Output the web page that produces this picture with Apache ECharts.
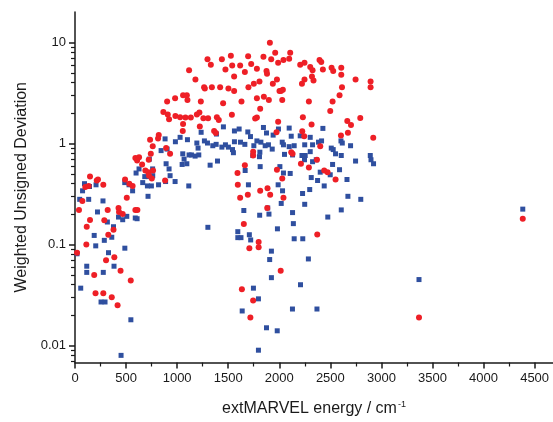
<!DOCTYPE html>
<html>
<head>
<meta charset="utf-8">
<script src="https://cdn.jsdelivr.net/npm/echarts@6/dist/echarts.min.js"></script>
<style>
  html, body { margin: 0; padding: 0; background: #fff; }
  #chart { width: 553px; height: 422px; }
</style>
</head>
<body>
<div id="chart"></div>
<script>
// [energy, weighted unsigned deviation]
const redData = [
  [1908, 9.9], [1960, 7.9], [2107, 7.9], [1845, 7.2], [1921, 6.8], [2041, 6.7], [2097, 6.9], [1297, 6.8], [1438, 6.8], [1526, 7.4],
  [1695, 7.3], [2394, 6.7], [1330, 6.0], [1539, 5.9], [1617, 5.9], [1725, 6.1], [1989, 6.3], [2205, 6.0], [2247, 6.3], [2303, 5.7],
  [1117, 5.3], [1473, 5.4], [1663, 5.1], [1781, 5.5], [1875, 5.2], [1880, 4.9], [2326, 5.3], [1558, 4.6], [1179, 4.3], [1806, 4.1],
  [1977, 4.3], [2247, 4.3], [2320, 4.6], [2335, 4.2], [1751, 3.9], [1937, 3.9], [2222, 3.9], [1264, 3.6], [1271, 3.5], [1340, 3.6],
  [1421, 3.6], [1502, 3.5], [1558, 3.3], [1698, 3.6], [2002, 3.3], [2035, 3.4], [2016, 3.3], [1058, 3.0], [1095, 3.0], [980, 2.8],
  [902, 2.6], [1101, 2.7], [1232, 2.6], [1630, 2.6], [1781, 2.8], [1849, 2.9], [1898, 2.7], [2029, 2.7], [2290, 2.6], [1450, 2.5],
  [1813, 2.2], [865, 2.05], [908, 1.93], [921, 1.74], [983, 1.87], [1029, 1.82], [1081, 1.81], [1134, 1.81], [1193, 1.93], [1218, 2.02],
  [1257, 1.78], [1303, 1.78], [1389, 1.82], [1408, 1.71], [1536, 1.92], [1764, 1.77], [1781, 1.81], [1058, 1.56], [1222, 1.47], [1989, 1.64],
  [2231, 1.82], [820, 1.21], [735, 1.09], [813, 1.12], [1055, 1.33], [1362, 1.33], [1379, 1.27], [1973, 1.29], [2225, 1.32], [761, 0.94],
  [892, 0.90], [931, 0.79], [742, 0.79], [591, 0.72], [627, 0.73], [608, 0.68], [722, 0.69], [657, 0.62], [1744, 0.83], [1744, 0.76],
  [2117, 0.82], [2130, 0.79], [2212, 0.63], [2290, 0.58], [689, 0.54], [718, 0.52], [764, 0.54], [725, 0.48], [752, 0.45], [1663, 0.61],
  [1977, 0.55], [1591, 0.51], [2029, 0.45], [147, 0.47], [101, 0.37], [134, 0.38], [213, 0.43], [225, 0.44], [277, 0.39], [490, 0.44],
  [532, 0.40], [507, 0.29], [882, 0.43], [1594, 0.39], [1813, 0.34], [1885, 0.36], [1911, 0.31], [1617, 0.29], [2041, 0.29], [564, 0.38],
  [1692, 0.31], [2411, 6.4], [2427, 5.4], [2512, 5.6], [2528, 5.2], [2607, 5.6], [2607, 4.8], [2747, 4.3], [2894, 4.1], [2894, 3.6],
  [2614, 3.6], [2590, 3.0], [2522, 2.6], [2499, 2.1], [2793, 1.79], [2666, 1.67], [2702, 1.52], [2316, 1.54], [2672, 1.28], [2244, 1.18],
  [2604, 1.2], [2920, 1.14], [2401, 0.94], [2369, 0.69], [2440, 0.54], [2473, 0.52], [2551, 0.44], [72, 0.27], [39, 0.22], [320, 0.22],
  [426, 0.23], [431, 0.21], [467, 0.20], [591, 0.22], [611, 0.22], [147, 0.175], [287, 0.174], [377, 0.14], [115, 0.15], [326, 0.125],
  [1882, 0.23], [1653, 0.16], [111, 0.1], [20, 0.083], [304, 0.07], [385, 0.075], [446, 0.055], [188, 0.05], [546, 0.044], [201, 0.033],
  [277, 0.033], [360, 0.030], [417, 0.025], [1798, 0.106], [1798, 0.094], [1707, 0.092], [2014, 0.055], [1634, 0.036], [1744, 0.028], [1717, 0.019],
  [2372, 0.126], [3368, 0.019], [4384, 0.18]
]

const blueData = [
  [1453, 1.46], [1607, 1.39], [1845, 1.44], [2097, 1.42], [1235, 1.29], [1385, 1.24], [1561, 1.33], [1692, 1.30], [1718, 1.17], [1875, 1.27],
  [1940, 1.21], [1992, 1.39], [2205, 1.19], [2117, 1.18], [2303, 1.15], [882, 1.11], [1029, 1.15], [1101, 1.09], [983, 1.04], [1193, 1.01],
  [1267, 1.06], [1297, 1.01], [1349, 0.95], [1382, 0.98], [1438, 0.92], [1473, 0.97], [1502, 0.92], [1542, 0.87], [1561, 1.04], [1620, 1.03],
  [1663, 0.98], [1751, 0.95], [1781, 1.06], [1820, 1.03], [1862, 0.95], [1894, 0.97], [1931, 0.88], [2029, 1.03], [2041, 0.97], [2097, 0.93],
  [2146, 0.95], [2249, 0.97], [2326, 0.97], [2384, 1.03], [843, 0.85], [902, 0.88], [1055, 0.79], [1117, 0.77], [1140, 0.77], [1176, 0.75],
  [1212, 0.77], [1068, 0.70], [1205, 0.90], [1551, 0.81], [1810, 0.82], [1806, 0.74], [1741, 0.76], [2051, 0.78], [2130, 0.77], [2303, 0.83],
  [2254, 0.76], [2362, 0.69], [2326, 0.66], [892, 0.63], [921, 0.56], [1049, 0.62], [1095, 0.63], [1323, 0.61], [1395, 0.67], [1813, 0.59],
  [2006, 0.59], [2041, 0.51], [2107, 0.505], [627, 0.56], [598, 0.51], [760, 0.56], [761, 0.48], [722, 0.47], [683, 0.47], [663, 0.41],
  [709, 0.38], [748, 0.38], [818, 0.39], [931, 0.48], [980, 0.42], [1114, 0.38], [564, 0.34], [715, 0.30], [1666, 0.54], [1698, 0.39],
  [1989, 0.39], [2032, 0.34], [2228, 0.32], [2298, 0.35], [2375, 0.43], [2313, 0.46], [93, 0.40], [74, 0.34], [142, 0.375], [206, 0.39],
  [487, 0.41], [529, 0.39], [887, 0.42], [728, 0.70], [2427, 1.41], [2604, 1.06], [2617, 1.01], [2698, 0.95], [2509, 0.90], [2528, 0.87],
  [2551, 0.79], [2607, 0.76], [2222, 0.76], [2247, 0.69], [2747, 0.67], [2891, 0.76], [2898, 0.69], [2923, 0.63], [2522, 0.62], [2590, 0.55],
  [2401, 0.52], [2499, 0.49], [2663, 0.44], [2440, 0.38], [2672, 0.30], [2798, 0.28], [2414, 1.06], [46, 0.28], [134, 0.28], [274, 0.27],
  [220, 0.21], [317, 0.167], [377, 0.15], [188, 0.123], [287, 0.11], [203, 0.097], [360, 0.118], [328, 0.083], [20, 0.081], [115, 0.061],
  [115, 0.053], [277, 0.053], [382, 0.061], [56, 0.037], [255, 0.027], [294, 0.027], [547, 0.018], [451, 0.008], [426, 0.187], [467, 0.176],
  [507, 0.19], [590, 0.183], [608, 0.18], [488, 0.092], [1301, 0.148], [1594, 0.134], [1594, 0.117], [1625, 0.117], [1707, 0.125], [1720, 0.111],
  [1653, 0.217], [1808, 0.195], [1887, 0.23], [1899, 0.20], [1982, 0.143], [1923, 0.086], [1906, 0.071], [1923, 0.047], [1747, 0.037], [1796, 0.029],
  [1637, 0.022], [1875, 0.015], [1980, 0.014], [1796, 0.009], [2019, 0.255], [2249, 0.25], [2130, 0.207], [2138, 0.161], [2146, 0.114], [2230, 0.114],
  [2285, 0.072], [2208, 0.040], [2129, 0.023], [2369, 0.023], [2607, 0.22], [2475, 0.187], [3368, 0.045], [4384, 0.224]
]

// tick positions
const xMajor = [0, 500, 1000, 1500, 2000, 2500, 3000, 3500, 4000, 4500]
const xMinor = [250, 750, 1250, 1750, 2250, 2750, 3250, 3750, 4250]
const yMajor = [0.01, 0.1, 1, 10]
const yMinor = [0.007, 0.008, 0.009, 0.02, 0.03, 0.04, 0.05, 0.06, 0.07, 0.08, 0.09,
  0.2, 0.3, 0.4, 0.5, 0.6, 0.7, 0.8, 0.9, 2, 3, 4, 5, 6, 7, 8, 9]

const axisColor = '#1a1a1a'
const font = 'Liberation Sans, Arial, sans-serif'
// the minor-tick axes need a line to get their ticks drawn, so keep it invisible
const hiddenLine = { show: true, onZero: false, lineStyle: { opacity: 0 } }

const chart = echarts.init(document.getElementById('chart'))
chart.setOption({
  animation: false,
  backgroundColor: '#fff',
  textStyle: { fontFamily: font },
  grid: { left: 75, right: 0, top: 12, bottom: 57 },
  xAxis: [{
    type: 'value',
    min: 0,
    max: 4680,
    name: 'extMARVEL energy / cm{sup|-1}',
    nameLocation: 'middle',
    nameGap: 38,
    nameTextStyle: {
      fontSize: 16,
      color: axisColor,
      fontFamily: font,
      rich: {
        sup: { fontSize: 9, verticalAlign: 'top', color: axisColor, fontFamily: font, padding: [0, 0, 8, 1] }
      }
    },
    axisLine: { show: true, onZero: false, lineStyle: { color: axisColor, width: 1.5 } },
    axisTick: { show: true, length: 6, customValues: xMajor, lineStyle: { color: axisColor, width: 1.5 } },
    axisLabel: {
      customValues: xMajor,
      margin: 9,
      fontSize: 13,
      color: axisColor,
      fontFamily: font,
      formatter: v => String(v)
    },
    splitLine: { show: false }
  }, {
    type: 'value',
    min: 0,
    max: 4680,
    position: 'bottom',
    axisLine: hiddenLine,
    axisTick: { show: true, length: 4, customValues: xMinor, lineStyle: { color: axisColor, width: 1.2 } },
    axisLabel: { show: false },
    splitLine: { show: false }
  }],
  yAxis: [{
    type: 'log',
    min: 0.0068,
    max: 20,
    name: 'Weighted Unsigned Deviation',
    nameLocation: 'middle',
    nameGap: 44,
    nameTextStyle: { fontSize: 16, color: axisColor, fontFamily: font },
    axisLine: { show: true, onZero: false, lineStyle: { color: axisColor, width: 1.5 } },
    axisTick: { show: true, length: 6, customValues: yMajor, lineStyle: { color: axisColor, width: 1.5 } },
    axisLabel: {
      customValues: yMajor,
      margin: 9,
      fontSize: 13,
      color: axisColor,
      fontFamily: font,
      formatter: v => String(+v.toPrecision(3))
    },
    splitLine: { show: false }
  }, {
    type: 'log',
    min: 0.0068,
    max: 20,
    position: 'left',
    axisLine: hiddenLine,
    axisTick: { show: true, length: 4, customValues: yMinor, lineStyle: { color: axisColor, width: 1.2 } },
    axisLabel: { show: false },
    splitLine: { show: false }
  }],
  series: [{
    // empty series so the minor-tick axes are laid out
    type: 'scatter',
    xAxisIndex: 1,
    yAxisIndex: 1,
    data: [],
    silent: true
  }, {
    type: 'scatter',
    name: 'blue',
    data: blueData,
    symbol: 'rect',
    symbolSize: 5,
    itemStyle: { color: '#2f4f9f', opacity: 1 }
  }, {
    type: 'scatter',
    name: 'red',
    data: redData,
    symbol: 'circle',
    symbolSize: 6,
    itemStyle: { color: '#ee1f26', opacity: 1 }
  }]
})
</script>
</body>
</html>
